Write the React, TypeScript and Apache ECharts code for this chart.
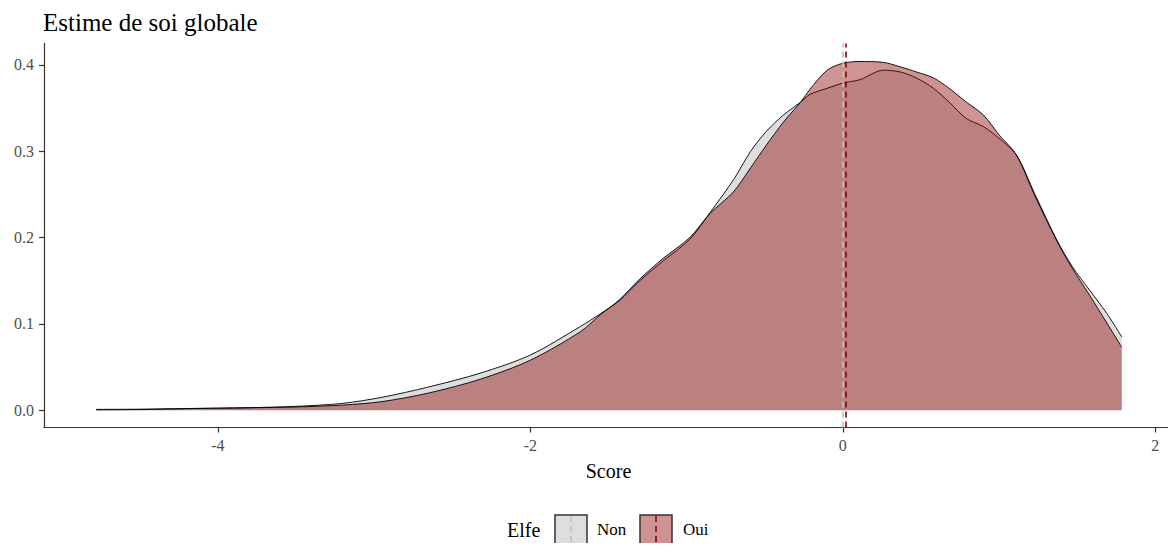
import React, { useEffect, useRef } from "react";
import * as echarts from "echarts";

const TITLE = "Estime de soi globale";
const X_NAME = "Score";
const LEGEND_TITLE = "Elfe";
const GROUPS = ["Non", "Oui"];

const scores = [
  -4.78, -4.5, -4.2, -3.8, -3.5, -3.2, -2.95, -2.65, -2.32, -2.0, -1.68, -1.55,
  -1.43, -1.3, -1.15, -0.98, -0.85, -0.7, -0.59, -0.49, -0.38, -0.27, -0.21,
  -0.1, 0.0, 0.11, 0.26, 0.365, 0.47, 0.58, 0.68, 0.79, 0.9, 1.0, 1.11, 1.23,
  1.37, 1.47, 1.58, 1.69, 1.785,
];
const densityNon = [
  0.001, 0.0012, 0.002, 0.003, 0.0045, 0.008, 0.015, 0.027, 0.043, 0.064, 0.097,
  0.112, 0.127, 0.15, 0.173, 0.198, 0.229, 0.267, 0.3, 0.323, 0.342, 0.357,
  0.366, 0.373, 0.379, 0.383, 0.394, 0.392, 0.385, 0.373, 0.357, 0.338, 0.3285,
  0.315, 0.296, 0.25, 0.197, 0.166, 0.139, 0.112, 0.085,
];
const densityOui = [
  0.0005, 0.0008, 0.0018, 0.0028, 0.0038, 0.006, 0.01, 0.02, 0.036, 0.058,
  0.091, 0.111, 0.128, 0.152, 0.176, 0.2, 0.228, 0.253, 0.281, 0.307, 0.334,
  0.357, 0.372, 0.394, 0.402, 0.404, 0.403, 0.398, 0.392, 0.385, 0.373, 0.357,
  0.342, 0.319, 0.296, 0.248, 0.196, 0.164, 0.133, 0.101, 0.073,
];
const means = [-0.004, 0.021];

const xTicks = [-4, -2, 0, 2];
const yTicks = [0, 0.1, 0.2, 0.3, 0.4];

const FONT = "'Liberation Serif', 'Times New Roman', serif";
const FILLS = ["rgba(190,190,190,0.5)", "rgba(139,0,0,0.42)"];
const LEGEND_FILLS = ["#dedede", "#ce9393"];
const VLINE_COLORS = ["#bebebe", "#8b0000"];

export default function App() {
  const ref = useRef<HTMLDivElement>(null);
  useEffect(() => {
    if (!ref.current) return;
    const chart = echarts.init(ref.current, null, { renderer: "svg" });
    const seriesData = [densityNon, densityOui].map((ys) =>
      scores.map((x, i) => [x, ys[i]])
    );
    const legendBoxes = [555, 640];
    const legendTexts = [597, 683];
    chart.setOption({
      animation: false,
      textStyle: { fontFamily: FONT },
      title: {
        text: TITLE,
        left: 38,
        top: 5,
        textStyle: { fontFamily: FONT, fontSize: 25, fontWeight: "normal", color: "#000" },
      },
      grid: { left: 44, right: 3, top: 43.4, bottom: 123.5, containLabel: false },
      xAxis: {
        type: "value",
        min: -5.113,
        max: 2.113,
        name: X_NAME,
        nameLocation: "middle",
        nameGap: 33,
        nameTextStyle: { fontFamily: FONT, fontSize: 20, color: "#000" },
        axisLine: { onZero: false, lineStyle: { color: "#333", width: 1.2 } },
        axisTick: { show: true, length: 5, customValues: xTicks, lineStyle: { color: "#333", width: 1.2 } },
        axisLabel: {
          customValues: xTicks,
          margin: 10,
          fontFamily: FONT,
          fontSize: 16,
          color: "#4d4d4d",
          formatter: (v: number) => String(v),
        },
        splitLine: { show: false },
      },
      yAxis: {
        type: "value",
        min: -0.02,
        max: 0.425,
        axisLine: { show: true, onZero: false, lineStyle: { color: "#333", width: 1.2 } },
        axisTick: { show: true, length: 5, customValues: yTicks, lineStyle: { color: "#333", width: 1.2 } },
        axisLabel: {
          customValues: yTicks,
          margin: 10,
          fontFamily: FONT,
          fontSize: 16,
          color: "#4d4d4d",
          formatter: (v: number) => v.toFixed(1),
        },
        splitLine: { show: false },
      },
      series: [
        {
          name: GROUPS[0],
          type: "line",
          data: seriesData[0],
          smooth: 0.3,
          showSymbol: false,
          lineStyle: { color: "#000", width: 0.9 },
          areaStyle: { color: FILLS[0], origin: 0, opacity: 1 },
          z: 2,
        },
        {
          name: GROUPS[1],
          type: "line",
          data: seriesData[1],
          smooth: 0.3,
          showSymbol: false,
          lineStyle: { color: "#000", width: 0.9 },
          areaStyle: { color: FILLS[1], origin: 0, opacity: 1 },
          z: 3,
        },
        {
          name: "means",
          type: "line",
          data: [],
          z: 5,
          markLine: {
            silent: true,
            symbol: "none",
            label: { show: false },
            data: means.map((m, i) => ({
              xAxis: m,
              lineStyle: { color: VLINE_COLORS[i], type: [6, 4], width: 1.6 },
            })),
          },
        },
      ],
      graphic: [
        {
          type: "text",
          left: 507,
          top: 520,
          style: { text: LEGEND_TITLE, font: `20px ${FONT}`, fill: "#000" },
        },
        ...GROUPS.flatMap((g, i) => [
          {
            type: "rect",
            shape: { x: legendBoxes[i], y: 515, width: 32, height: 32 },
            style: { fill: LEGEND_FILLS[i], stroke: "#333", lineWidth: 1.5 },
          },
          {
            type: "line",
            shape: { x1: legendBoxes[i] + 16, y1: 516, x2: legendBoxes[i] + 16, y2: 546 },
            style: { stroke: VLINE_COLORS[i], lineWidth: 1.6, lineDash: [6, 4] },
          },
          {
            type: "text",
            left: legendTexts[i],
            top: 521,
            style: { text: g, font: `17px ${FONT}`, fill: "#000" },
          },
        ]),
      ],
    });
    return () => chart.dispose();
  }, []);
  return <div ref={ref} style={{ width: 1176, height: 551, margin: -8 }} />;
}
